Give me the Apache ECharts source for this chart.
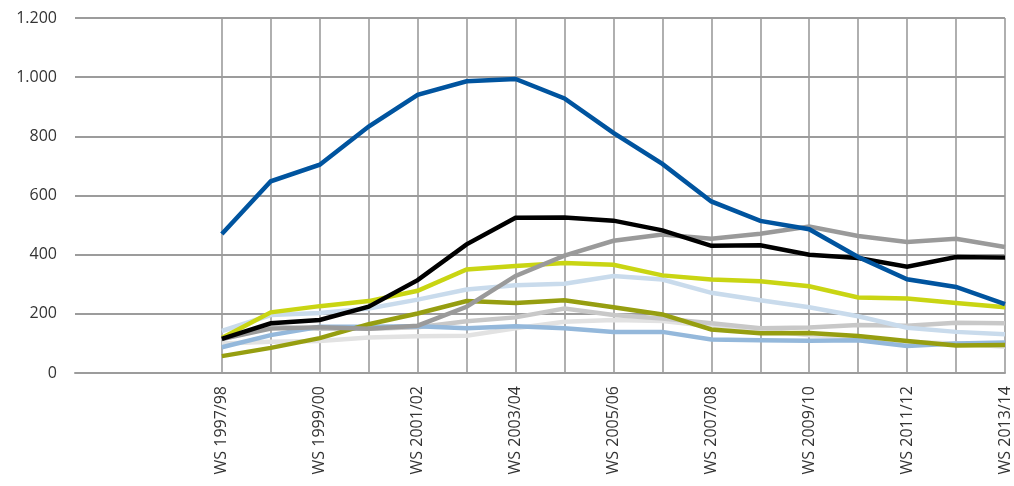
<!DOCTYPE html>
<html>
<head>
<meta charset="utf-8">
<script src="https://cdn.jsdelivr.net/npm/echarts@6/dist/echarts.min.js"></script>
<style>
  html, body { margin: 0; padding: 0; background: #fff; }
  #chart { width: 1014px; height: 486px; }
</style>
</head>
<body>
<div id="chart"></div>
<script>
// Winter semesters; the first three slots stay empty to leave room on the left
const semesters = ['', '', '',
  'WS 1997/98', 'WS 1998/99', 'WS 1999/00', 'WS 2000/01', 'WS 2001/02', 'WS 2002/03',
  'WS 2003/04', 'WS 2004/05', 'WS 2005/06', 'WS 2006/07', 'WS 2007/08', 'WS 2008/09',
  'WS 2009/10', 'WS 2010/11', 'WS 2011/12', 'WS 2012/13', 'WS 2013/14'];
const emptySlots = 3;

const yTicks = { min: 0, max: 1200, step: 200 };

const seriesBlue      = [470, 648, 704, 833, 940, 986, 994, 928, 812, 707, 580, 514, 486, 392, 317, 291, 233];
const seriesBlack     = [115, 168, 179, 224, 314, 435, 525, 526, 515, 482, 430, 432, 400, 389, 359, 392, 390];
const seriesGrey      = [115, 150, 155, 150, 160, 224, 328, 397, 447, 468, 454, 471, 495, 463, 443, 454, 426];
const seriesYellow    = [118, 205, 226, 243, 278, 350, 362, 372, 366, 330, 316, 310, 293, 255, 252, 237, 222];
const seriesPaleBlue  = [142, 196, 203, 218, 248, 282, 297, 302, 328, 316, 271, 246, 222, 192, 153, 139, 131];
const seriesOlive     = [57, 85, 118, 165, 201, 243, 237, 246, 222, 198, 147, 134, 135, 125, 108, 93, 95];
const seriesLightGrey = [118, 156, 150, 150, 155, 175, 188, 218, 196, 184, 168, 151, 154, 162, 160, 170, 168];
const seriesSteel     = [87, 128, 156, 156, 158, 151, 158, 151, 139, 139, 113, 111, 109, 111, 91, 100, 103];
const seriesPaleGrey  = [100, 106, 108, 120, 124, 126, 151, 173, 179, 176, 158, 145, 128, 122, 106, 100, 89];

const lines = [
  { name: 'Reihe 9', data: seriesPaleGrey,  color: '#e2e2e2' },
  { name: 'Reihe 8', data: seriesLightGrey, color: '#c8c8c8' },
  { name: 'Reihe 7', data: seriesSteel,     color: '#94b8db' },
  { name: 'Reihe 6', data: seriesOlive,     color: '#969e10' },
  { name: 'Reihe 5', data: seriesPaleBlue,  color: '#c9dbec' },
  { name: 'Reihe 4', data: seriesYellow,    color: '#c9d513' },
  { name: 'Reihe 3', data: seriesGrey,      color: '#9a9a9a' },
  { name: 'Reihe 2', data: seriesBlack,     color: '#000000' },
  { name: 'Reihe 1', data: seriesBlue,      color: '#00549f' }
];

const pad = new Array(emptySlots).fill(null);
const gridColor = '#9c9c9c';
const font = '"Open Sans", "DejaVu Sans", sans-serif';

const chart = echarts.init(document.getElementById('chart'), null, { renderer: 'canvas' });
chart.setOption({
  animation: false,
  backgroundColor: '#ffffff',
  grid: { left: 75, right: 9, top: 18, bottom: 113, containLabel: false },
  xAxis: {
    type: 'category',
    data: semesters,
    boundaryGap: false,
    axisLine: { show: true, lineStyle: { color: gridColor, width: 2 } },
    axisTick: { show: false },
    axisLabel: {
      rotate: 90,
      margin: 13,
      color: '#333',
      fontFamily: font,
      fontSize: 16,
      interval: (i) => i >= emptySlots && (i - emptySlots) % 2 === 0
    },
    splitLine: {
      show: true,
      interval: (i) => i >= emptySlots,
      lineStyle: { color: gridColor, width: 1.6 }
    }
  },
  yAxis: {
    type: 'value',
    min: yTicks.min,
    max: yTicks.max,
    interval: yTicks.step,
    axisLine: { show: false },
    axisTick: { show: false },
    axisLabel: {
      margin: 18,
      color: '#333',
      fontFamily: font,
      fontSize: 16,
      formatter: (v) => v.toLocaleString('de-DE')
    },
    splitLine: { show: true, lineStyle: { color: gridColor, width: 2 } }
  },
  series: lines.map((l, k) => ({
    name: l.name,
    type: 'line',
    data: pad.concat(l.data),
    symbol: 'none',
    z: 2 + k,
    lineStyle: { color: l.color, width: 4.5, join: 'miter', cap: 'butt' },
    itemStyle: { color: l.color }
  }))
});
</script>
</body>
</html>
